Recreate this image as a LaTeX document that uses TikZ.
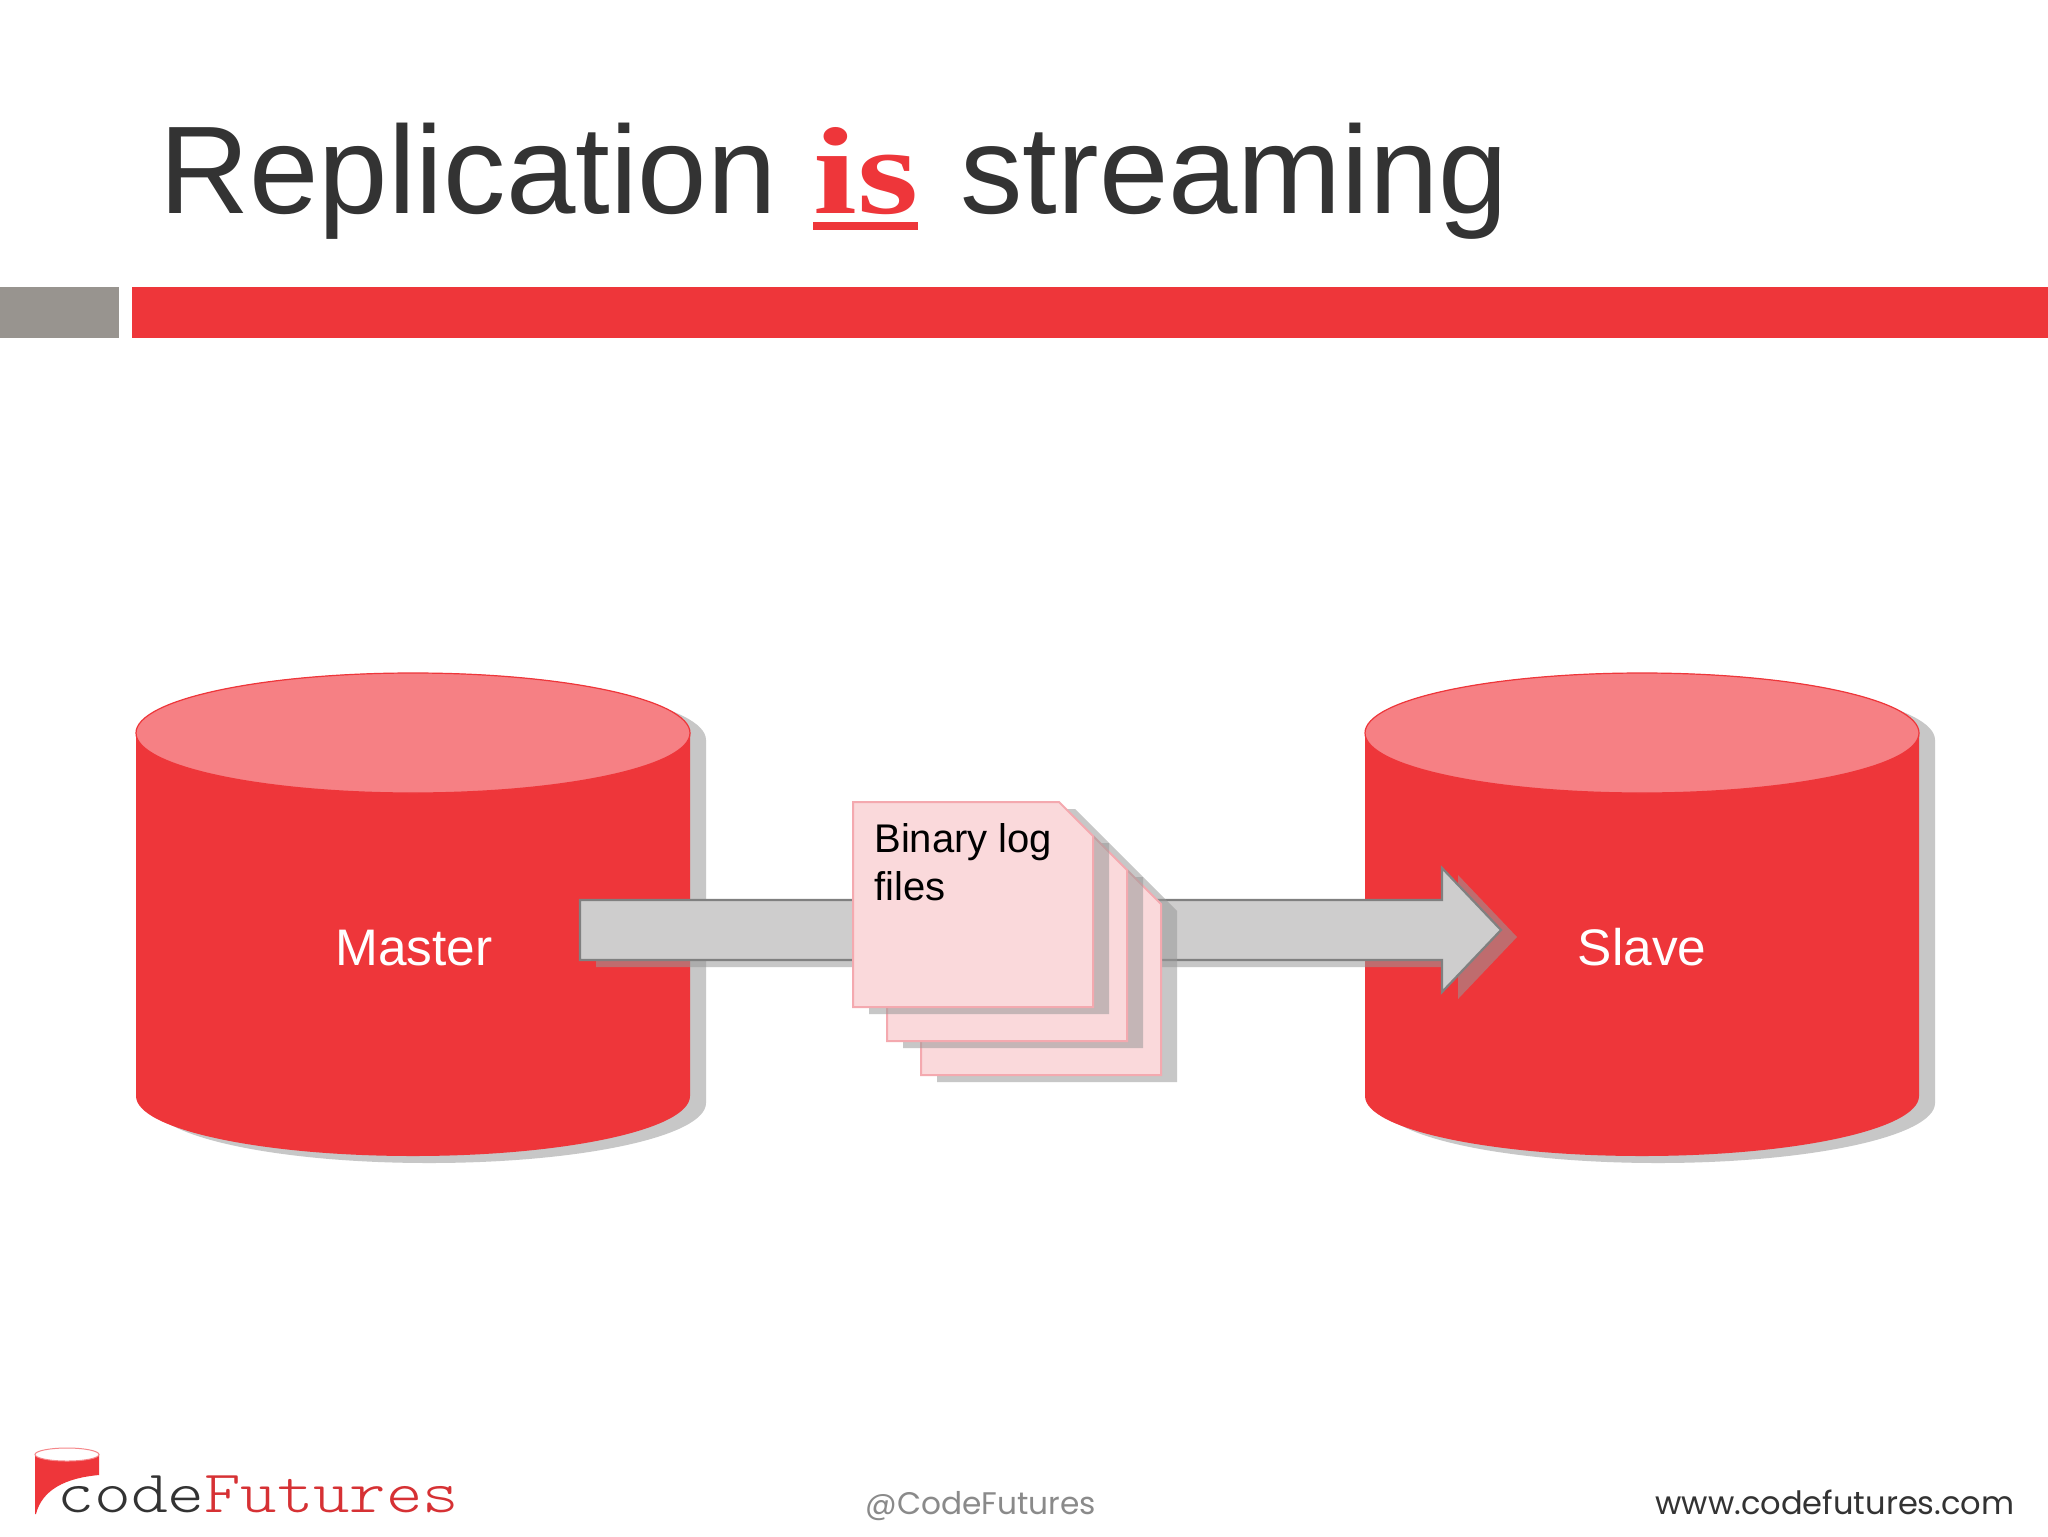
\documentclass[tikz,border=0pt]{standalone}
\usepackage{fontspec}
\usetikzlibrary{calc}
\newfontfamily\sansf{Liberation Sans}
\newfontfamily\isf{Liberation Serif}[BoldFont={Liberation Serif Bold}]
\newfontfamily\footf{Poppins}
\definecolor{brandred}{HTML}{EE363A}
\definecolor{toptone}{HTML}{F68084}
\definecolor{pagefill}{HTML}{FAD9DB}
\definecolor{pageedge}{HTML}{F4A9AF}
\definecolor{flowfill}{HTML}{CECDCD}
\definecolor{flowedge}{HTML}{808080}
\definecolor{shadowgray}{HTML}{999999}
\definecolor{titleink}{HTML}{333333}
\definecolor{footgray}{HTML}{8A8A8A}
\definecolor{bargray}{HTML}{98948F}
\tikzset{
  x=0.5pt,y=-0.5pt,
  shadowshape/.style={fill=shadowgray,fill opacity=.55,draw=none},
  dbbody/.style={fill=brandred,draw=none},
  dbtop/.style={fill=toptone,draw=brandred,line width=.6pt},
  page/.style={fill=pagefill,draw=pageedge,line width=1pt},
  flowshape/.style={fill=flowfill,draw=flowedge,line width=1.1pt},
  txt/.style={inner sep=0pt,anchor=base west},
  dblabel/.style={inner sep=0pt,anchor=base,text=white,font=\sansf\fontsize{25.7}{30}\selectfont},
}
\newcommand{\dbpath}[1]{(#1-277,733) -- (#1-277,1096) arc[start angle=180,end angle=0,x radius=277,y radius=60] -- (#1+277,733) arc[start angle=0,end angle=-180,x radius=277,y radius=60] -- cycle}
\newcommand{\pagepath}[1]{(#1,802+#1-853) -- (#1+206,802+#1-853) -- (#1+240,836+#1-853) -- (#1+240,1007+#1-853) -- (#1,1007+#1-853) -- cycle}
\newcommand{\flowpath}[1]{($(flowstart)+(#1)$) ++(0,-30) -- ++(862,0) -- ++(0,-32) -- ($(flowtip)+(#1)$) -- ++(-59,62) -- ++(0,-32) -- ++(-862,0) -- cycle}
\begin{document}
\begin{tikzpicture}
\useasboundingbox (0,0) rectangle (2048,1536);
\fill[white] (0,0) rectangle (2048,1536);
% title
\node[txt,font=\sansf\fontsize{62.4}{70}\selectfont,text=titleink] (t1) at (159,213) {Replication};
\node[txt,font=\isf\bfseries\fontsize{62}{70}\selectfont,text=brandred] (t2) at (813,213) {\scalebox{1.27}[1]{is}};
\node[txt,font=\sansf\fontsize{62.4}{70}\selectfont,text=titleink] (t3) at (960,213) {streaming};
\fill[brandred] (813,222) rectangle (918,229.5);
% bars
\fill[bargray] (0,287) rectangle (119,338);
\fill[brandred] (132,287) rectangle (2048,338);
% cylinders
\begin{scope}[shift={(16,7)}]
\fill[shadowshape] \dbpath{413};
\fill[shadowshape] \dbpath{1642};
\end{scope}
\fill[dbbody] \dbpath{413};
\draw[dbtop] (413,733) ellipse[x radius=277,y radius=60];
\fill[dbbody] \dbpath{1642};
\draw[dbtop] (1642,733) ellipse[x radius=277,y radius=60];
\node[dblabel] (master) at (414,965) {Master};
\node[dblabel] (slave) at (1642,965) {Slave};
% flow arrow
\coordinate (flowstart) at (580,930);
\coordinate (flowtip) at (1501,930);
\fill[shadowshape] \flowpath{16,7};
\draw[flowshape] \flowpath{0,0};
% pages
\foreach \px in {921,887,853}{
  \begin{scope}[shift={(16,7)}]
  \fill[shadowshape] \pagepath{\px};
  \end{scope}
  \draw[page] \pagepath{\px};
}
\node[txt,font=\sansf\fontsize{20}{24}\selectfont] (binlog) at (874,852) {Binary log};
\node[txt,font=\sansf\fontsize{20}{24}\selectfont] (binlog2) at (874,900) {files};
% logo
\fill[brandred] (35,1454) -- (99,1454) -- (99,1475) .. controls (65,1478) and (42,1490) .. (36,1514) -- (35,1514) -- cycle;
\draw[fill=white,draw=brandred!60,line width=.5pt] (67,1454.5) ellipse[x radius=32,y radius=6.5];
\node[txt,font=\ttfamily\fontseries{l}\fontsize{30}{34}\selectfont,text=titleink] (logo1) at (57,1512) {\scalebox{1.17}[1]{code}};
\node[txt,font=\ttfamily\fontseries{l}\fontsize{30}{34}\selectfont,text=brandred!90!black] (logo2) at (204,1512) {\scalebox{1.155}[1]{Futures}};
% footer
\node[txt,font=\footf\fontsize{15.6}{20}\selectfont,text=footgray] (foot1) at (865,1514) {@CodeFutures};
\node[txt,font=\footf\fontsize{16.05}{20}\selectfont,text=titleink] (foot2) at (1655,1514) {www.codefutures.com};
\end{tikzpicture}
\end{document}
